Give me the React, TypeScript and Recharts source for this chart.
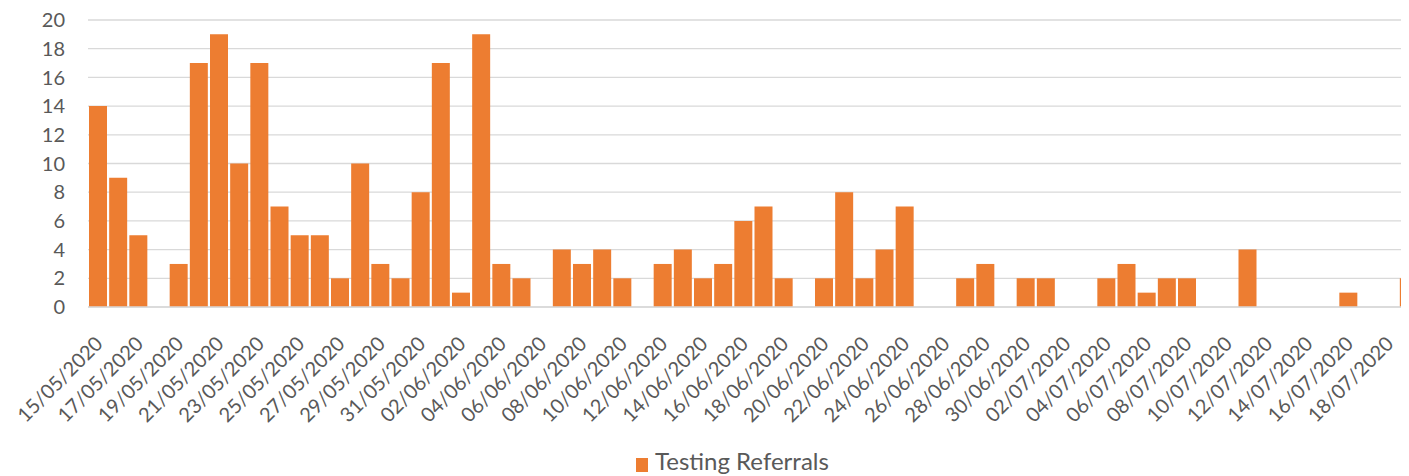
import React from "react";
import {
  BarChart,
  Bar,
  XAxis,
  YAxis,
  CartesianGrid,
  Legend,
} from "recharts";

const dates = [
  "15/05/2020", "16/05/2020", "17/05/2020", "18/05/2020", "19/05/2020", "20/05/2020",
  "21/05/2020", "22/05/2020", "23/05/2020", "24/05/2020", "25/05/2020", "26/05/2020",
  "27/05/2020", "28/05/2020", "29/05/2020", "30/05/2020", "31/05/2020", "01/06/2020",
  "02/06/2020", "03/06/2020", "04/06/2020", "05/06/2020", "06/06/2020", "07/06/2020",
  "08/06/2020", "09/06/2020", "10/06/2020", "11/06/2020", "12/06/2020", "13/06/2020",
  "14/06/2020", "15/06/2020", "16/06/2020", "17/06/2020", "18/06/2020", "19/06/2020",
  "20/06/2020", "21/06/2020", "22/06/2020", "23/06/2020", "24/06/2020", "25/06/2020",
  "26/06/2020", "27/06/2020", "28/06/2020", "29/06/2020", "30/06/2020", "01/07/2020",
  "02/07/2020", "03/07/2020", "04/07/2020", "05/07/2020", "06/07/2020", "07/07/2020",
  "08/07/2020", "09/07/2020", "10/07/2020", "11/07/2020", "12/07/2020", "13/07/2020",
  "14/07/2020", "15/07/2020", "16/07/2020", "17/07/2020", "18/07/2020", "19/07/2020",
];

const referrals = [
  14, 9, 5, 0, 3, 17, 19, 10, 17, 7, 5, 5, 2, 10, 3, 2, 8, 17,
  1, 19, 3, 2, 0, 4, 3, 4, 2, 0, 3, 4, 2, 3, 6, 7, 2, 0,
  2, 8, 2, 4, 7, 0, 0, 2, 3, 0, 2, 2, 0, 0, 2, 3, 1, 2,
  2, 0, 0, 4, 0, 0, 0, 0, 1, 0, 0, 2,
];

const yTicks = [0, 2, 4, 6, 8, 10, 12, 14, 16, 18, 20];

const data = dates.map((date, i) => ({ date, value: referrals[i] }));

const textColor = "#595959";
const barColor = "#ED7D31";

const DateTick = (props: any) => {
  const { x, y, payload } = props;
  return (
    <g transform={`translate(${x + 6},${y + 38})`}>
      <text
        x={0}
        y={0}
        textAnchor="end"
        fill={textColor}
        fontSize={20}
        transform="rotate(-45)"
      >
        {payload.value}
      </text>
    </g>
  );
};

const LegendBox = () => (
  <div style={{ position: "relative", height: 30, color: textColor }}>
    <span
      style={{
        position: "absolute",
        left: 628,
        top: 12,
        width: 12,
        height: 14,
        background: barColor,
      }}
    />
    <span
      style={{
        position: "absolute",
        left: 647,
        top: 0,
        fontSize: 24,
        whiteSpace: "nowrap",
      }}
    >
      Testing Referrals
    </span>
  </div>
);

export default function App() {
  return (
    <div
      style={{
        width: 1401,
        height: 468,
        overflow: "hidden",
        fontFamily: "Lato, sans-serif",
      }}
    >
      <BarChart
        width={1411}
        height={468}
        data={data}
        margin={{ top: 12, right: 0, bottom: 0, left: 0 }}
        barCategoryGap={1}
      >
        <CartesianGrid vertical={false} stroke="#D9D9D9" strokeWidth={1.3} />
        <XAxis
          dataKey="date"
          interval={1}
          tickLine={false}
          tickSize={0}
          tickMargin={0}
          height={139}
          axisLine={{ stroke: "#D9D9D9", strokeWidth: 1.3 }}
          tick={<DateTick />}
        />
        <YAxis
          width={80}
          domain={[0, 20]}
          ticks={yTicks}
          axisLine={false}
          tickLine={false}
          tickSize={0}
          tickMargin={23}
          tick={{ fill: textColor, fontSize: 20 }}
        />
        <Legend
          verticalAlign="bottom"
          content={<LegendBox />}
          wrapperStyle={{ left: 0, width: 1411, height: 30 }}
        />
        <Bar
          dataKey="value"
          name="Testing Referrals"
          fill={barColor}
          isAnimationActive={false}
        />
      </BarChart>
    </div>
  );
}
